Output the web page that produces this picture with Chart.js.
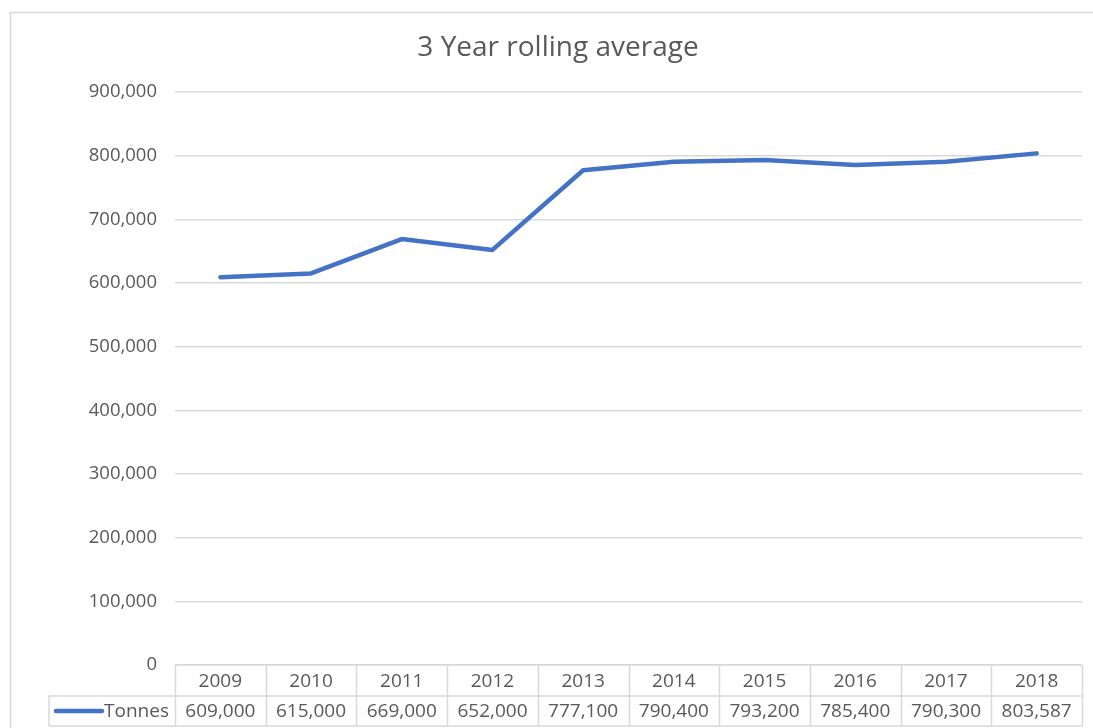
<!DOCTYPE html>
<html>
<head>
<meta charset="utf-8">
<script src="https://cdn.jsdelivr.net/npm/chart.js@4.4.1/dist/chart.umd.min.js"></script>
<style>
  html, body { margin: 0; padding: 0; background: #fff; }
  #wrap { width: 1093px; height: 728px; }
</style>
</head>
<body>
<div id="wrap"><canvas id="grafico"></canvas></div>
<script>
const anos = ['2009', '2010', '2011', '2012', '2013', '2014', '2015', '2016', '2017', '2018'];
const tonnes = [609000, 615000, 669000, 652000, 777100, 790400, 793200, 785400, 790300, 803587];
const serieNome = 'Tonnes';
const tituloTexto = '3 Year rolling average';

const COR_LINHA = '#4472C4';
const COR_TEXTO = '#595959';
const COR_GRADE = '#d9d9d9';
const FONTE = '"Open Sans", sans-serif';

const fmt = v => v.toLocaleString('en-US');

// moldura e título (estilo Excel)
const molduraPlugin = {
    id: 'moldura',
    beforeDraw(chart) {
        const ctx = chart.ctx;
        ctx.save();
        ctx.fillStyle = '#fff';
        ctx.fillRect(0, 0, chart.width, chart.height);
        ctx.strokeStyle = COR_GRADE;
        ctx.lineWidth = 1.5;
        ctx.beginPath();
        ctx.moveTo(10.5, chart.height + 2);
        ctx.lineTo(10.5, 12.5);
        ctx.lineTo(chart.width + 2, 12.5);
        ctx.stroke();

        ctx.fillStyle = COR_TEXTO;
        ctx.font = '28px ' + FONTE;
        ctx.textAlign = 'center';
        ctx.textBaseline = 'middle';
        ctx.fillText(tituloTexto, 558, 48);
        ctx.restore();
    }
};

// tabela de dados abaixo do eixo x
const tabelaPlugin = {
    id: 'tabelaDados',
    afterDraw(chart) {
        const ctx = chart.ctx;
        const x = chart.scales.x;
        const area = chart.chartArea;
        const topo = area.bottom;
        const meio = topo + 31;
        const base = Math.min(meio + 30, chart.height - 2);
        const esqLegenda = 49;
        const passo = (area.right - area.left) / anos.length;

        ctx.save();
        ctx.strokeStyle = COR_GRADE;
        ctx.lineWidth = 1.5;
        ctx.beginPath();
        ctx.moveTo(area.left, topo); ctx.lineTo(area.right, topo);
        ctx.moveTo(esqLegenda, meio); ctx.lineTo(area.right, meio);
        ctx.moveTo(esqLegenda, base); ctx.lineTo(area.right, base);
        ctx.moveTo(esqLegenda, meio); ctx.lineTo(esqLegenda, base);
        for (let i = 0; i <= anos.length; i++) {
            const xl = Math.round(area.left + i * passo) + 0.5;
            ctx.moveTo(xl, topo); ctx.lineTo(xl, base);
        }
        ctx.stroke();

        ctx.fillStyle = COR_TEXTO;
        ctx.font = '19px ' + FONTE;
        ctx.textAlign = 'center';
        ctx.textBaseline = 'middle';
        anos.forEach((ano, i) => {
            const cx = x.getPixelForValue(i);
            ctx.fillText(ano, cx, (topo + meio) / 2 + 1);
            ctx.fillText(fmt(tonnes[i]), cx, (meio + base) / 2 + 1);
        });

        // legenda
        ctx.textAlign = 'right';
        ctx.fillText(serieNome, area.left - 6, (meio + base) / 2 + 1);
        ctx.strokeStyle = COR_LINHA;
        ctx.lineWidth = 4.5;
        ctx.lineCap = 'round';
        ctx.beginPath();
        ctx.moveTo(56, (meio + base) / 2);
        ctx.lineTo(102, (meio + base) / 2);
        ctx.stroke();
        ctx.restore();
    }
};

new Chart(document.getElementById('grafico'), {
    type: 'line',
    data: {
        labels: anos,
        datasets: [{
            label: serieNome,
            data: tonnes,
            borderColor: COR_LINHA,
            backgroundColor: COR_LINHA,
            borderWidth: 4.5,
            pointRadius: 0,
            tension: 0,
            borderCapStyle: 'round',
            borderJoinStyle: 'round'
        }]
    },
    options: {
        responsive: true,
        maintainAspectRatio: false,
        animation: false,
        layout: { padding: { left: 0, right: 11, top: 92, bottom: 63 } },
        plugins: {
            legend: { display: false },
            tooltip: { enabled: false },
            title: { display: false }
        },
        scales: {
            x: {
                type: 'category',
                offset: true,
                display: false
            },
            y: {
                min: 0,
                max: 900000,
                afterFit: s => { s.width = 175; },
                border: { display: false },
                grid: { color: COR_GRADE, lineWidth: 1.5, drawTicks: false },
                ticks: {
                    stepSize: 100000,
                    padding: 18,
                    color: COR_TEXTO,
                    font: { family: FONTE, size: 18.5 },
                    callback: v => fmt(v)
                }
            }
        }
    },
    plugins: [molduraPlugin, tabelaPlugin]
});
</script>
</body>
</html>
